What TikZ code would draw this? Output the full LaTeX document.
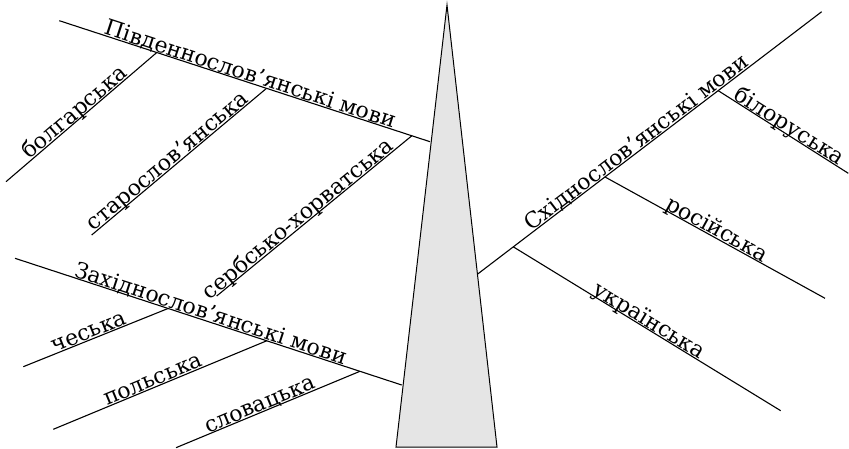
\documentclass[tikz,border=0pt]{standalone}
\usepackage{fontspec}
\setmainfont{DejaVu Serif}
\usetikzlibrary{calc}
\begin{document}
\begin{tikzpicture}[x=1pt,y=-1pt,line width=1.1pt,
  lbl/.style={font=\fontsize{22}{22}\selectfont, sloped, anchor=south, inner sep=0pt, outer sep=1.2pt, text depth=0pt},
  cone/.style={draw=black, fill=black!10, line width=1pt, line join=miter}]
\useasboundingbox (0,0) rectangle (849,449);
% central cone
\coordinate (T) at (447,5);
\coordinate (BL) at (396,447);
\coordinate (BR) at (497,447);
\draw[cone] (T) -- (BL) -- (BR) -- cycle;
% south slavic
\coordinate (S0) at (59.3,20.7);
\coordinate (S1) at (430,141.7);
\draw (S0) -- node[lbl,pos=0.509] {Південнослов’янські мови} (S1);
\coordinate (Sa) at ($(S0)!0.263!(S1)$);
\coordinate (Sb) at ($(S0)!0.559!(S1)$);
\coordinate (Sc) at ($(S0)!0.951!(S1)$);
\coordinate (Fa) at (6,181.7);
\coordinate (Fb) at (91.7,235);
\coordinate (Fc) at (216.7,296);
\draw (Fa) -- node[lbl,pos=0.49] {болгарська} (Sa);
\draw (Fb) -- node[lbl,pos=0.462] {старослов’янська} (Sb);
\draw (Fc) -- node[lbl,pos=0.443] {сербсько-хорватська} (Sc);
% west slavic
\coordinate (W0) at (15,258.3);
\coordinate (W1) at (401.7,385);
\draw (W0) -- node[lbl,pos=0.5] {Західнослов’янські мови} (W1);
\coordinate (Wa) at ($(W0)!0.396!(W1)$);
\coordinate (Wb) at ($(W0)!0.651!(W1)$);
\coordinate (Wc) at ($(W0)!0.892!(W1)$);
\coordinate (Ga) at (23.3,366.7);
\coordinate (Gb) at (53.3,429.3);
\coordinate (Gc) at (176,447.7);
\draw (Ga) -- node[lbl,pos=0.474] {чеська} (Wa);
\draw (Gb) -- node[lbl,pos=0.481] {польська} (Wb);
\draw (Gc) -- node[lbl,pos=0.473] {словацька} (Wc);
% east slavic
\coordinate (E0) at (477.7,274);
\coordinate (E1) at (821.7,11.7);
\draw (E0) -- node[lbl,pos=0.476] {Східнослов’янські мови} (E1);
\coordinate (Ea) at ($(E0)!0.699!(E1)$);
\coordinate (Eb) at ($(E0)!0.370!(E1)$);
\coordinate (Ec) at ($(E0)!0.1035!(E1)$);
\coordinate (Ha) at (848.3,173.3);
\coordinate (Hb) at (825,298.3);
\coordinate (Hc) at (780.7,410.7);
\draw (Ea) -- node[lbl,pos=0.515] {білоруська} (Ha);
\draw (Eb) -- node[lbl,pos=0.491] {російська} (Hb);
\draw (Ec) -- node[lbl,pos=0.4925] {українська} (Hc);
\end{tikzpicture}
\end{document}
